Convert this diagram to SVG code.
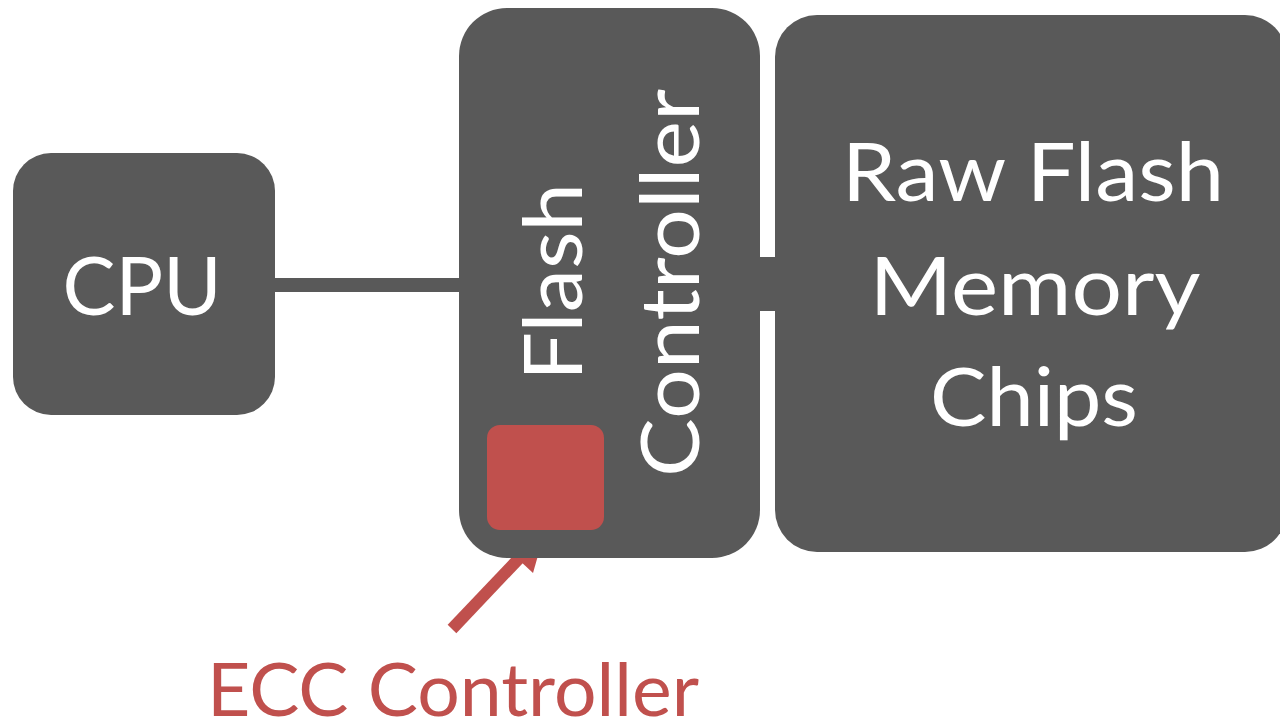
<svg xmlns="http://www.w3.org/2000/svg" width="1280" height="722" viewBox="0 0 1280 722">
  <style>
    .box { fill: #595959; }
    .lbl { fill: #ffffff; font-family: Lato, "Open Sans", "Liberation Sans", sans-serif; font-size: 82px; text-anchor: middle; }
    .red { fill: #C0504D; }
    .redtxt { fill: #C0504D; font-family: Lato, "Open Sans", "Liberation Sans", sans-serif; font-size: 74px; text-anchor: middle; }
  </style>
  <rect width="1280" height="722" fill="#ffffff"/>
  <g id="connectors">
    <rect class="box" x="270" y="278" width="195" height="14"/>
    <rect class="box" x="755" y="257" width="25" height="54"/>
    <line x1="452" y1="629" x2="526" y2="551" stroke="#C0504D" stroke-width="12"/>
    <polygon class="red" points="545,531 503,545 533,573"/>
  </g>
  <g id="cpu">
    <rect class="box" x="13" y="153" width="262" height="262" rx="38" ry="38"/>
    <text class="lbl" x="142" y="315" textLength="159" lengthAdjust="spacingAndGlyphs">CPU</text>
  </g>
  <g id="flash-controller">
    <rect class="box" x="459" y="8" width="301" height="550" rx="48" ry="48"/>
    <text class="lbl" transform="translate(582,282) rotate(-90)" x="0" y="0" textLength="198" lengthAdjust="spacingAndGlyphs">Flash</text>
    <text class="lbl" transform="translate(699,283) rotate(-90)" x="0" y="0" textLength="388" lengthAdjust="spacingAndGlyphs">Controller</text>
  </g>
  <g id="ecc-controller">
    <rect class="red" x="487" y="425" width="117" height="105" rx="13" ry="13"/>
  </g>
  <g id="raw-flash">
    <rect class="box" x="775" y="15" width="512" height="537" rx="42" ry="42"/>
    <text class="lbl" x="1033" y="201" textLength="382" lengthAdjust="spacingAndGlyphs">Raw Flash</text>
    <text class="lbl" x="1035" y="315" textLength="331" lengthAdjust="spacingAndGlyphs">Memory</text>
    <text class="lbl" x="1034" y="426" textLength="208" lengthAdjust="spacingAndGlyphs">Chips</text>
  </g>
  <g id="ecc-label">
    <text class="redtxt" x="453" y="716" textLength="492" lengthAdjust="spacingAndGlyphs">ECC Controller</text>
  </g>
</svg>
